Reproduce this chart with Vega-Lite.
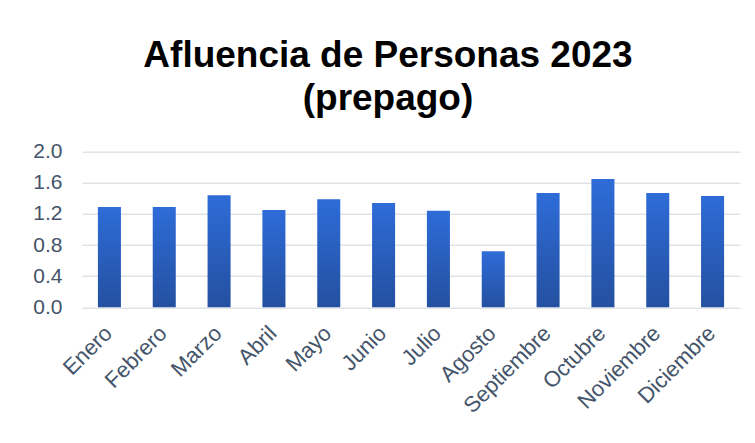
{
  "$schema": "https://vega.github.io/schema/vega-lite/v6.json",
  "autosize": "none",
  "width": 658,
  "height": 155.6,
  "padding": {"left": 82, "top": 151.7, "right": 15, "bottom": 136},
  "background": "white",
  "title": {
    "text": ["Afluencia de Personas 2023", "(prepago)"],
    "font": "Liberation Sans",
    "fontSize": 37,
    "fontWeight": "bold",
    "color": "#000000",
    "lineHeight": 43,
    "anchor": "middle",
    "frame": "group",
    "dx": -23,
    "offset": 23
  },
  "data": {
    "values": [
      {"mes": "Enero", "valor": 1.29},
      {"mes": "Febrero", "valor": 1.29},
      {"mes": "Marzo", "valor": 1.44},
      {"mes": "Abril", "valor": 1.25},
      {"mes": "Mayo", "valor": 1.39},
      {"mes": "Junio", "valor": 1.34},
      {"mes": "Julio", "valor": 1.24},
      {"mes": "Agosto", "valor": 0.72},
      {"mes": "Septiembre", "valor": 1.47},
      {"mes": "Octubre", "valor": 1.65},
      {"mes": "Noviembre", "valor": 1.47},
      {"mes": "Diciembre", "valor": 1.43}
    ]
  },
  "mark": {
    "type": "bar",
    "color": {
      "gradient": "linear",
      "x1": 0, "y1": 0, "x2": 0, "y2": 1,
      "stops": [
        {"offset": 0, "color": "#2E6CD8"},
        {"offset": 1, "color": "#2450A0"}
      ]
    }
  },
  "encoding": {
    "x": {
      "field": "mes",
      "type": "nominal",
      "sort": null,
      "title": null,
      "scale": {"paddingInner": 0.58, "paddingOuter": 0.29},
      "axis": {
        "labelAngle": -45,
        "labelFont": "Liberation Sans",
        "labelFontSize": 22,
        "labelColor": "#44546A",
        "labelPadding": 15,
        "labelOffset": -8,
        "domain": false,
        "ticks": false,
        "grid": false
      }
    },
    "y": {
      "field": "valor",
      "type": "quantitative",
      "title": null,
      "scale": {"domain": [0, 2]},
      "axis": {
        "values": [0, 0.4, 0.8, 1.2, 1.6, 2.0],
        "format": ".1f",
        "labelFont": "Liberation Sans",
        "labelFontSize": 21,
        "labelColor": "#44546A",
        "labelPadding": 20,
        "domain": false,
        "ticks": false,
        "gridColor": "#DFE3E8",
        "gridWidth": 1.5
      }
    }
  },
  "config": {"view": {"stroke": null}}
}
